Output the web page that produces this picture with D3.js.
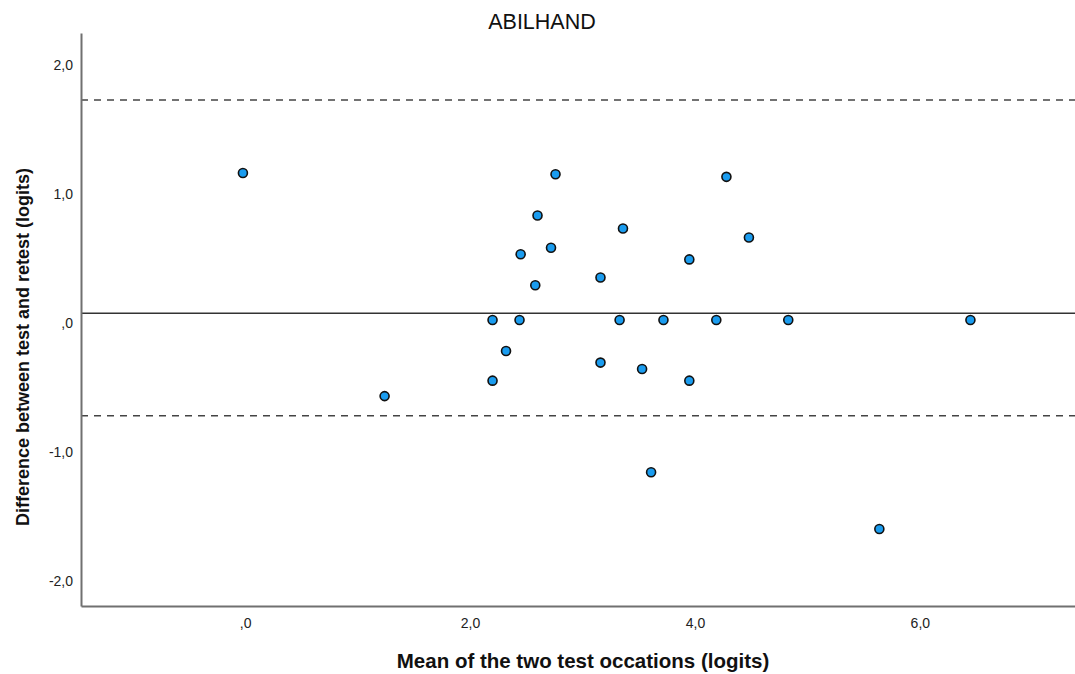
<!DOCTYPE html>
<meta charset="utf-8">
<style>

body {
  margin: 0;
  background: #fff;
}

svg {
  font-family: "Liberation Sans", Arial, sans-serif;
}

.axis path {
  stroke: #707070;
  stroke-width: 2px;
}

.axis text {
  font-family: "Liberation Sans", Arial, sans-serif;
  font-size: 14px;
  fill: #222;
}

.dot {
  fill: #1a9cef;
  stroke: #111;
  stroke-width: 1.6px;
}

</style>
<svg width="1075" height="674"></svg>
<script src="https://d3js.org/d3.v7.min.js"></script>
<script>

// mean of the two test occasions (x) and test-retest difference (y), one entry per person
var meanScores = [
  -0.02, 1.24,
  2.76, 4.28, 2.60, 3.36, 4.48, 2.45, 2.72, 3.95, 3.16, 2.58,
  2.20, 2.44, 3.33, 3.72, 4.19, 4.83, 6.45,
  2.32, 3.16, 3.53, 2.20, 3.95, 3.61, 5.64
];
var diffScores = [
  1.14, -0.59,
  1.13, 1.11, 0.81, 0.71, 0.64, 0.51, 0.56, 0.47, 0.33, 0.27,
  0.00, 0.00, 0.00, 0.00, 0.00, 0.00, 0.00,
  -0.24, -0.33, -0.38, -0.47, -0.47, -1.18, -1.62
];

// mean difference and limits of agreement
var meanDiff = 0.052;
var upperLimit = 1.705;
var lowerLimit = -0.742;

var xTicks = [0, 2, 4, 6];
var yTicks = [-2, -1, 0, 1, 2];

var svg = d3.select("svg"),
    margin = {top: 33, right: 0, bottom: 68, left: 81},
    width = +svg.attr("width") - margin.left - margin.right,
    height = +svg.attr("height") - margin.top - margin.bottom;

var x = d3.scaleLinear()
    .domain([-1.46, 7.38])
    .range([0, width]);

var y = d3.scaleLinear()
    .domain([-2.217, 2.225])
    .range([height, 0]);

// SPSS style labels: decimal comma, plain hyphen and no leading zero ("2,0", ",0")
function spssFormat(v) {
  var s = d3.format(".1f")(v).replace("\u2212", "-").replace(".", ",");
  return s.replace(/^0,/, ",").replace(/^-0,/, "-,");
}

var g = svg.append("g")
    .attr("transform", "translate(" + margin.left + "," + margin.top + ")");

// reference lines
g.append("line")
    .attr("x1", 0).attr("x2", width)
    .attr("y1", y(meanDiff)).attr("y2", y(meanDiff))
    .style("stroke", "#333")
    .style("stroke-width", 1.5);

g.selectAll(".limit")
  .data([upperLimit, lowerLimit])
  .enter().append("line")
    .attr("class", "limit")
    .attr("x1", 0).attr("x2", width)
    .attr("y1", function(d) { return y(d); })
    .attr("y2", function(d) { return y(d); })
    .style("stroke", "#444")
    .style("stroke-width", 1.5)
    .style("stroke-dasharray", "7,6");

// axes
g.append("g")
    .attr("class", "axis")
    .attr("transform", "translate(0," + height + ")")
    .call(d3.axisBottom(x).tickValues(xTicks).tickSize(0).tickPadding(12).tickFormat(spssFormat))
    .call(function(a) { a.selectAll("text").attr("dy", "0.71em"); });

g.append("g")
    .attr("class", "axis")
    .call(d3.axisLeft(y).tickValues(yTicks).tickSize(0).tickPadding(8).tickFormat(spssFormat))
    .call(function(a) { a.selectAll("text").attr("dy", "0.55em"); });

// points
g.selectAll(".dot")
  .data(meanScores)
  .enter().append("circle")
    .attr("class", "dot")
    .attr("r", 4.5)
    .attr("cx", function(d) { return x(d); })
    .attr("cy", function(d, i) { return y(diffScores[i]); });

// titles
svg.append("text")
    .attr("x", 542)
    .attr("y", 29)
    .attr("text-anchor", "middle")
    .style("font-size", "21.5px")
    .style("fill", "#111")
    .text("ABILHAND");

svg.append("text")
    .attr("x", 583)
    .attr("y", 668)
    .attr("text-anchor", "middle")
    .style("font-size", "20.5px")
    .style("font-weight", "bold")
    .style("fill", "#111")
    .text("Mean of the two test occations (logits)");

svg.append("text")
    .attr("transform", "translate(29,347) rotate(-90)")
    .attr("text-anchor", "middle")
    .style("font-size", "18px")
    .style("font-weight", "bold")
    .style("fill", "#111")
    .text("Difference between test and retest (logits)");

</script>
